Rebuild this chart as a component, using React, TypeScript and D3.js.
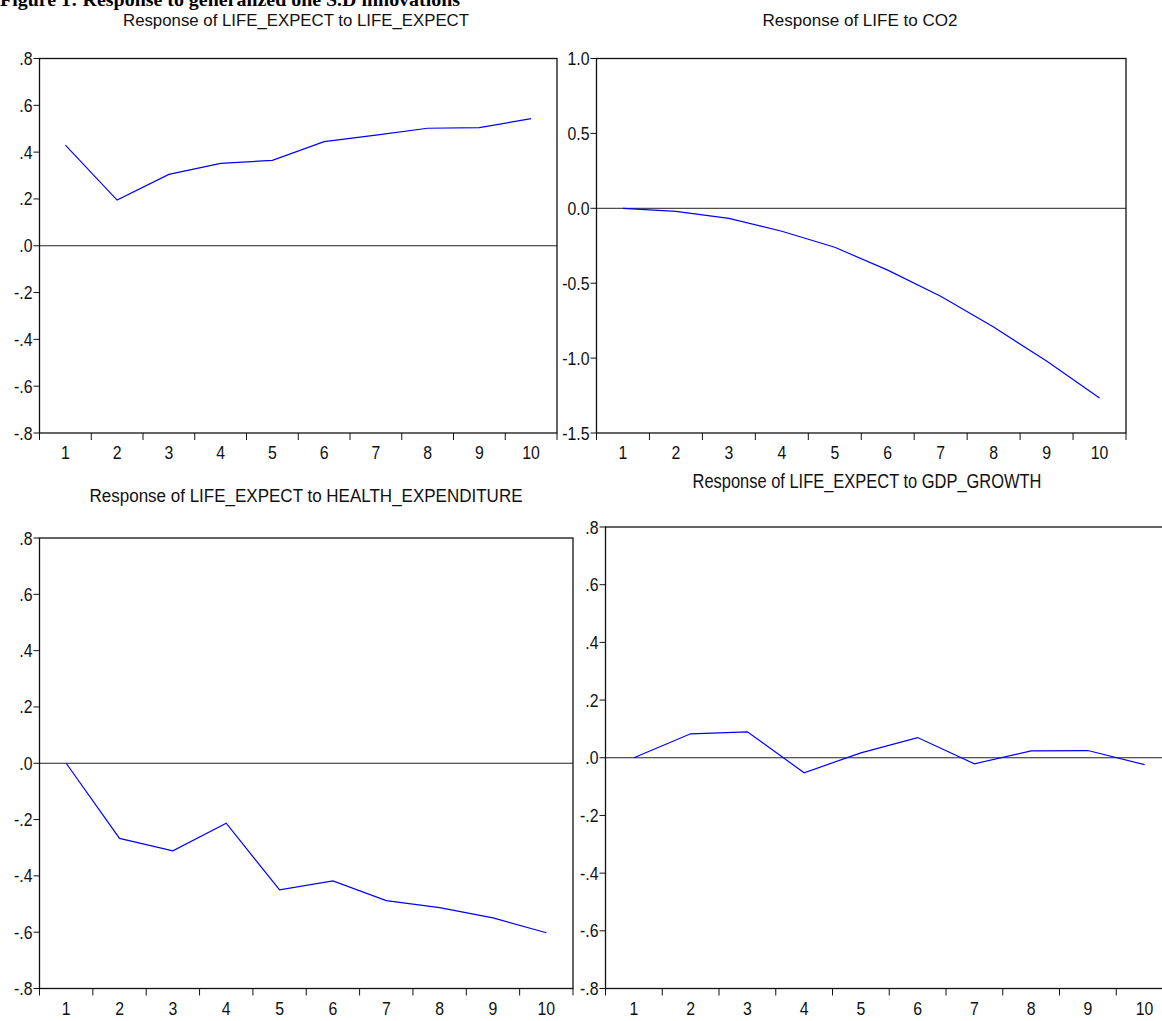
import React from 'react';
import * as d3 from 'd3';

// horizon periods
const periods = [1, 2, 3, 4, 5, 6, 7, 8, 9, 10];

// impulse responses
const lifeToLife = [0.43, 0.195, 0.305, 0.352, 0.365, 0.445, 0.473, 0.502, 0.505, 0.543];
const lifeToCo2 = [0.0, -0.02, -0.067, -0.153, -0.26, -0.413, -0.587, -0.793, -1.02, -1.267];
const lifeToHealth = [0.0, -0.267, -0.311, -0.213, -0.45, -0.418, -0.488, -0.513, -0.549, -0.602];
const lifeToGdp = [0.0, 0.083, 0.09, -0.052, 0.017, 0.07, -0.021, 0.024, 0.025, -0.024];

const ticksPoint8 = [-0.8, -0.6, -0.4, -0.2, 0, 0.2, 0.4, 0.6, 0.8];
const ticksCo2 = [-1.5, -1.0, -0.5, 0, 0.5, 1.0];

const figureTitle = 'Figure 1: Response to generalized one S.D innovations';

const SANS = "'Liberation Sans', Arial, Helvetica, sans-serif";
const SQUEEZE = 0.88;

const oneDec = (v) => d3.format('.1f')(v).replace('\u2212', '-');
const noLeadZero = (v) => oneDec(v).replace('0.', '.');

const panels = [
  { title: 'Response of LIFE_EXPECT to LIFE_EXPECT', data: lifeToLife, ticks: ticksPoint8, fmt: noLeadZero,
    box: { l: 39.5, r: 557, t: 58.5, b: 433 }, tx: 296, ty: 26, tlen: 346, tsize: 17 },
  { title: 'Response of LIFE to CO2', data: lifeToCo2, ticks: ticksCo2, fmt: oneDec,
    box: { l: 596.5, r: 1126, t: 58.5, b: 433 }, tx: 860, ty: 26, tlen: 195, tsize: 17 },
  { title: 'Response of LIFE_EXPECT to HEALTH_EXPENDITURE', data: lifeToHealth, ticks: ticksPoint8, fmt: noLeadZero,
    box: { l: 39.5, r: 573, t: 538, b: 988.5 }, tx: 306, ty: 502, tlen: 433, tsize: 18 },
  { title: 'Response of LIFE_EXPECT to GDP_GROWTH', data: lifeToGdp, ticks: ticksPoint8, fmt: noLeadZero,
    box: { l: 605.5, r: 1173, t: 527, b: 988.5 }, tx: 867, ty: 488, tlen: 349, tsize: 21 },
];

function Narrow({ x, y, anchor = 'middle', size = 18, children }) {
  return (
    <g transform={`translate(${x},${y}) scale(${SQUEEZE},1)`}>
      <text x={0} y={0} textAnchor={anchor} fontFamily={SANS} fontSize={size} fill="#111">{children}</text>
    </g>
  );
}

function Panel({ p }) {
  const { l, r, t, b } = p.box;
  const x = d3.scaleBand().domain(periods).range([l, r]);
  const y = d3.scaleLinear().domain(d3.extent(p.ticks)).range([b, t]);
  const line = d3.line()
    .x((d, i) => x(periods[i]) + x.bandwidth() / 2)
    .y((d) => y(d));
  const edges = periods.map((d) => x(d)).concat([r]);

  return (
    <g>
      <text x={p.tx} y={p.ty} textAnchor="middle" fontFamily={SANS} fontSize={p.tsize}
            textLength={p.tlen} lengthAdjust="spacingAndGlyphs" fill="#111">{p.title}</text>
      <line x1={l} x2={r} y1={y(0)} y2={y(0)} stroke="#222" strokeWidth={1} />
      <path d={line(p.data)} fill="none" stroke="#0000ff" strokeWidth={1.2} />
      <rect x={l} y={t} width={r - l} height={b - t} fill="none" stroke="#111" strokeWidth={1.3} />
      {p.ticks.map((v) => (
        <g key={v}>
          <line x1={l - 6} x2={l} y1={y(v)} y2={y(v)} stroke="#111" />
          <Narrow x={l - 7} y={y(v) + 6.5} anchor="end">{p.fmt(v)}</Narrow>
        </g>
      ))}
      {edges.map((e, i) => (
        <line key={i} x1={e} x2={e} y1={b} y2={b + 7} stroke="#111" />
      ))}
      {periods.map((d) => (
        <Narrow key={d} x={x(d) + x.bandwidth() / 2} y={b + 26}>{d}</Narrow>
      ))}
    </g>
  );
}

export default function App() {
  return (
    <div style={{ position: 'absolute', left: 0, top: 0 }}>
      <svg width={1162} height={1021} style={{ display: 'block', background: '#fff', overflow: 'hidden' }}>
        <text x={0} y={6} fontFamily="'Liberation Serif', 'Times New Roman', serif" fontWeight="bold"
              fontSize={19} textLength={460} lengthAdjust="spacingAndGlyphs">{figureTitle}</text>
        {panels.map((p) => <Panel key={p.title} p={p} />)}
      </svg>
    </div>
  );
}
